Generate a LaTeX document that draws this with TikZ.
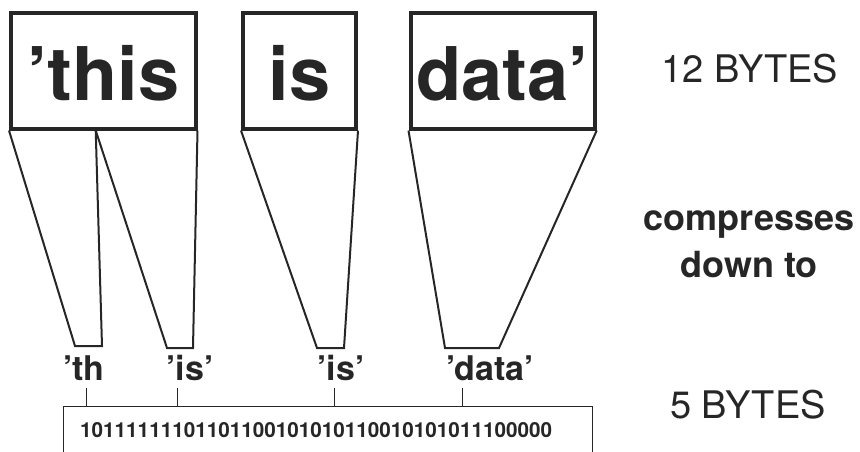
\documentclass[tikz,border=0pt]{standalone}
\usepackage{fontspec}
\setmainfont{TeX Gyre Heros}
\usetikzlibrary{positioning,calc}
\definecolor{ink}{HTML}{262626}

\begin{document}
\begin{tikzpicture}[x=1pt,y=-1pt,
      word/.style = {draw=ink, line width=4pt, inner sep=0pt, text=ink,
         minimum height=115.5pt, text height=59pt, text depth=0pt,
         font=\fontsize{74}{74}\selectfont\bfseries},
      piece/.style = {text=ink, inner sep=0pt, anchor=base,
         font=\fontsize{34}{34}\selectfont\bfseries},
      funnel/.style = {draw=ink, line width=2pt, line join=miter},
      bytes/.style = {text=ink, inner sep=0pt, anchor=base,
         font=\fontsize{38}{38}\selectfont},
      strap/.style = {text=ink, inner sep=0pt, anchor=base,
         font=\fontsize{36}{36}\selectfont\bfseries},
      marker/.style = {draw=ink, line width=0.8pt}
]
   \useasboundingbox (0,0) rectangle (860,452);

   % uncompressed words
   \node[word, minimum width=184.5pt] (w1) at (103.25,70.75) {’this};
   \node[word, minimum width=113pt]   (w2) at (299.5,70.75)  {is};
   \node[word, minimum width=184.2pt] (w3) at (502.6,70.75)  {data’};

   % where 'this is cut in two
   \coordinate (split) at ($(w1.south west)!0.46!(w1.south east)$);

   % bottom corners of the funnels
   \coordinate (th-l)  at (75,346);
   \coordinate (th-r)  at (102,346);
   \coordinate (is1-l) at (167,348);
   \coordinate (is1-r) at (193,348);
   \coordinate (is2-l) at (317,348);
   \coordinate (is2-r) at (344,348);
   \coordinate (dat-l) at (445,348);
   \coordinate (dat-r) at (499,348);

   \draw[funnel] (w1.south west) -- (th-l) -- (th-r) -- (split);
   \draw[funnel] (split) -- (is1-l) -- (is1-r) -- (w1.south east);
   \draw[funnel] (w2.south west) -- (is2-l) -- (is2-r) -- (w2.south east);
   \draw[funnel] (w3.south west) -- (dat-l) -- (dat-r) -- (w3.south east);

   % compressed pieces
   \node[piece] (th)  at (84,380)  {’th};
   \node[piece] (is1) at (190,380) {’is’};
   \node[piece] (is2) at (341,380) {’is’};
   \node[piece] (dat) at (490,380) {’data’};

   % bit stream
   \node[anchor=base west, inner sep=0pt, text=ink,
      font=\fontsize{20.7}{20.7}\selectfont\bfseries] (bits) at (80,437)
      {10111111101101100101010110010101011100000};

   \coordinate (bl)  at (63,452);
   \coordinate (btl) at (63,406);
   \coordinate (btr) at (592,406);
   \coordinate (br)  at (592,452);
   \draw[marker] (bl) -- (btl) -- (btr) -- (br);

   \foreach \x in {86,177,334,462}{
      \coordinate (tk-top) at (\x,388);
      \coordinate (tk-bot) at (\x,406);
      \draw[marker] (tk-top) -- (tk-bot);
   }

   % sizes
   \node[bytes] (big)   at (750,82)  {12 BYTES};
   \node[strap] (cmp)   at (749,230) {compresses};
   \node[strap] (down)  at ($(cmp.base)+(0,47)$) {down to};
   \node[bytes] (small) at (748,418) {5 BYTES};
\end{tikzpicture}
\end{document}
